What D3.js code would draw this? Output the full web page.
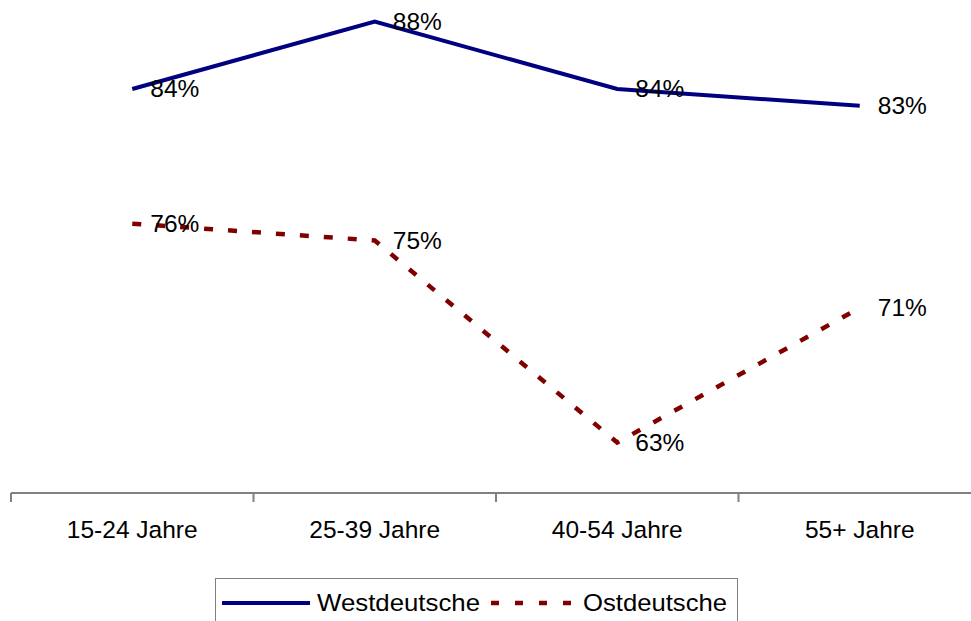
<!DOCTYPE html>
<meta charset="utf-8">
<style>

body {
  margin: 0;
  background: #fff;
}

text {
  font-family: "Liberation Sans", Arial, sans-serif;
  fill: #000;
}

.axis path,
.axis line {
  stroke: #808080;
  stroke-width: 2px;
}

</style>
<body>
<script src="https://d3js.org/d3.v7.min.js"></script>
<script>

var width = 971,
    height = 621;

var categories = ["15-24 Jahre", "25-39 Jahre", "40-54 Jahre", "55+ Jahre"];
var west = [84, 88, 84, 83];
var ost = [76, 75, 63, 71];
var seriesNames = ["Westdeutsche", "Ostdeutsche"];

var svg = d3.select("body").append("svg")
    .attr("width", width)
    .attr("height", height);

// plot area runs a bit past the right edge, like the original
var x = d3.scaleBand()
    .domain(categories)
    .range([11, 981]);

var y = d3.scaleLinear()
    .domain([60, 90])
    .range([493, -12]);

var xc = function(d, i) { return x(categories[i]) + x.bandwidth() / 2; };

// category axis
var axis = svg.append("g").attr("class", "axis");

axis.append("line")
    .attr("x1", x.range()[0]).attr("x2", x.range()[1])
    .attr("y1", y(60)).attr("y2", y(60));

axis.selectAll(".tick")
    .data(categories)
  .enter().append("line")
    .attr("x1", function(d) { return x(d); })
    .attr("x2", function(d) { return x(d); })
    .attr("y1", y(60))
    .attr("y2", y(60) + 9);

axis.selectAll(".label")
    .data(categories)
  .enter().append("text")
    .attr("x", function(d) { return x(d) + x.bandwidth() / 2; })
    .attr("y", 538)
    .attr("text-anchor", "middle")
    .style("font-size", "24.5px")
    .text(function(d) { return d; });

var line = d3.line()
    .x(xc)
    .y(function(d) { return y(d); });

svg.append("path")
    .datum(west)
    .attr("d", line)
    .attr("fill", "none")
    .attr("stroke", "#000080")
    .attr("stroke-width", 4);

svg.append("path")
    .datum(ost)
    .attr("d", line)
    .attr("fill", "none")
    .attr("stroke", "#800000")
    .attr("stroke-width", 4.5)
    .attr("stroke-dasharray", "9,15");

// value labels
[west, ost].forEach(function(s) {
  svg.append("g").selectAll("text")
      .data(s)
    .enter().append("text")
      .attr("x", function(d, i) { return xc(d, i) + 18; })
      .attr("y", function(d) { return y(d) + 8; })
      .style("font-size", "24.5px")
      .text(function(d) { return d + "%"; });
});

// legend
var legend = svg.append("g");

legend.append("rect")
    .attr("x", 215.5)
    .attr("y", 578.5)
    .attr("width", 522)
    .attr("height", 60)
    .attr("fill", "#fff")
    .attr("stroke", "#808080")
    .attr("stroke-width", 1);

legend.append("line")
    .attr("x1", 222).attr("x2", 310)
    .attr("y1", 603).attr("y2", 603)
    .attr("stroke", "#000080")
    .attr("stroke-width", 4);

legend.append("text")
    .attr("x", 317)
    .attr("y", 611)
    .attr("textLength", 163)
    .attr("lengthAdjust", "spacingAndGlyphs")
    .style("font-size", "24.5px")
    .text(seriesNames[0]);

legend.append("line")
    .attr("x1", 491).attr("x2", 572)
    .attr("y1", 603).attr("y2", 603)
    .attr("stroke", "#800000")
    .attr("stroke-width", 4.5)
    .attr("stroke-dasharray", "8,16");

legend.append("text")
    .attr("x", 583)
    .attr("y", 611)
    .attr("textLength", 144)
    .attr("lengthAdjust", "spacingAndGlyphs")
    .style("font-size", "24.5px")
    .text(seriesNames[1]);

</script>
